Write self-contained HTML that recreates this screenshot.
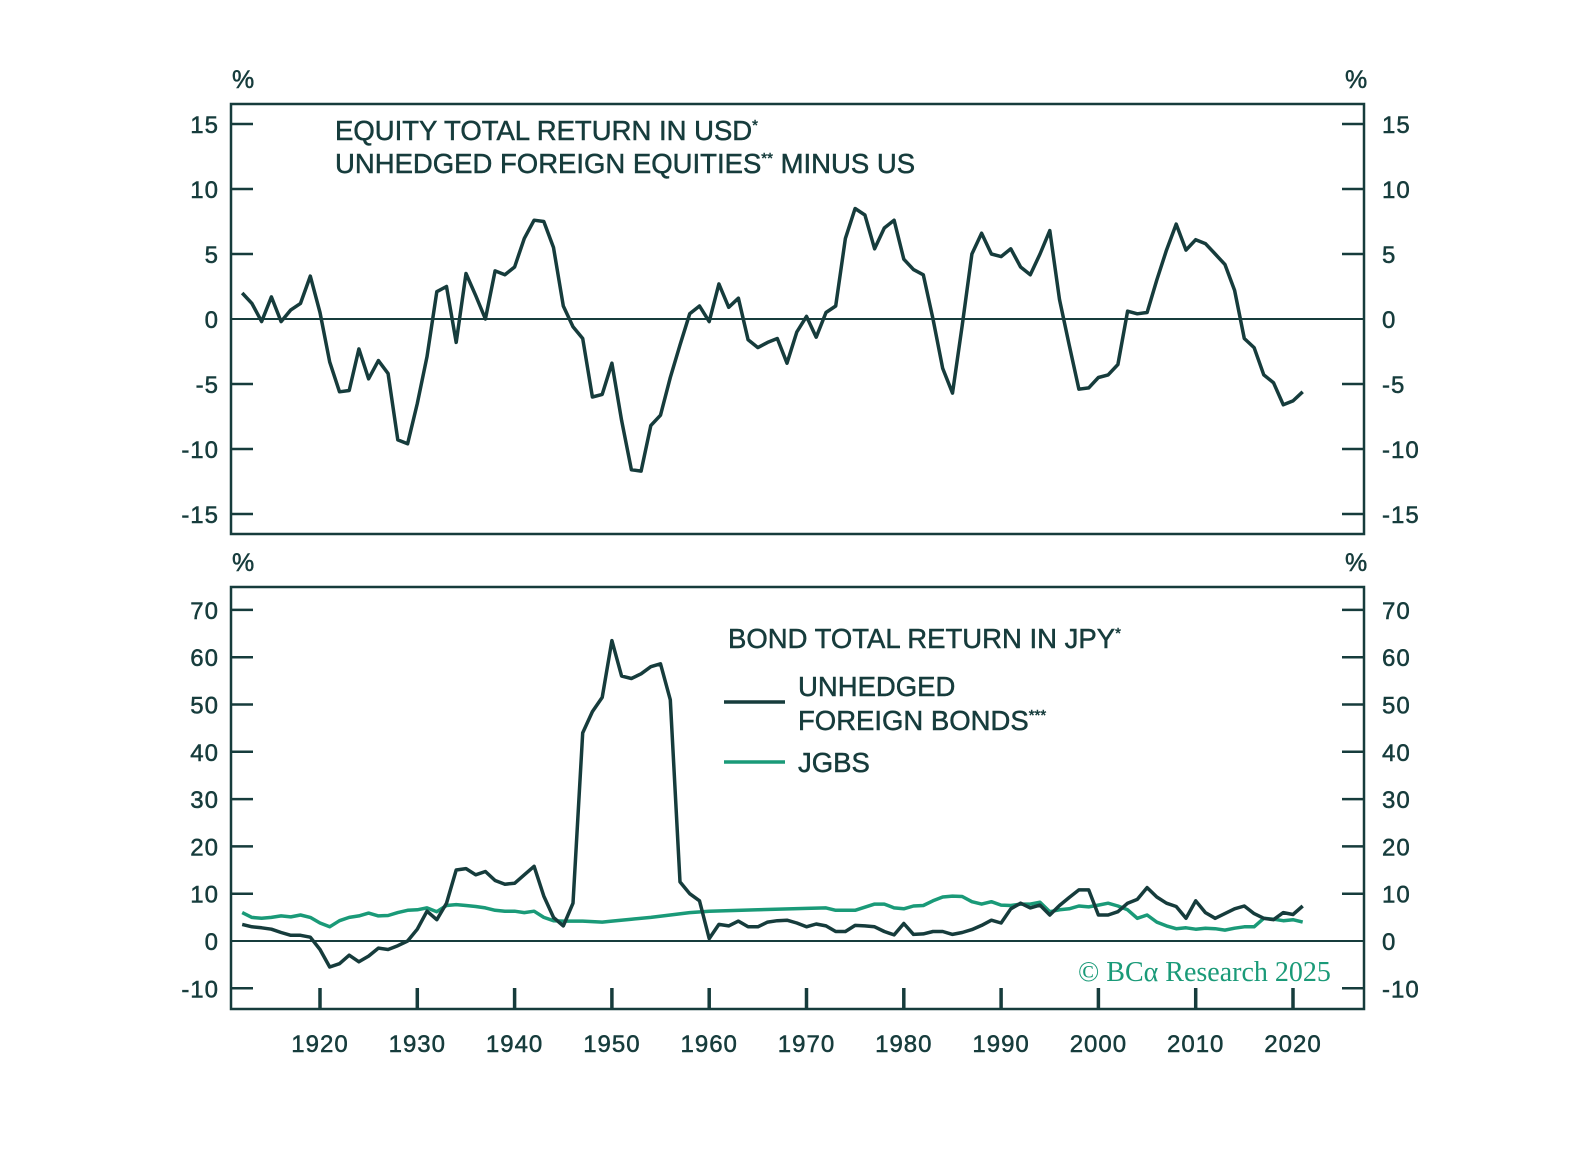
<!DOCTYPE html>
<html><head><meta charset="utf-8"><style>
html,body{margin:0;padding:0;background:#fff}
svg text{font-family:"Liberation Sans",sans-serif;fill:#163c3c;stroke:#163c3c;stroke-width:0.5}
</style></head><body>
<svg id="s" width="1588" height="1144" viewBox="0 0 1588 1144" xmlns="http://www.w3.org/2000/svg">
<g stroke="#163c3c" stroke-width="2.5" fill="none">
<rect x="231" y="104" width="1133" height="430"/>
<rect x="231" y="587" width="1133" height="422"/>
<line x1="231" y1="319" x2="1364" y2="319" stroke-width="2"/>
<line x1="231" y1="941" x2="1364" y2="941" stroke-width="2"/>
</g>
<g id="ticks" stroke="#163c3c" stroke-width="2.5"></g>
<g id="labels" font-size="24" letter-spacing="1"></g>
<text x="232" y="88" font-size="25">%</text>
<text x="1345" y="88" font-size="25">%</text>
<text x="232" y="571" font-size="25">%</text>
<text x="1345" y="571" font-size="25">%</text>
<text x="335" y="140" font-size="27.5">EQUITY  TOTAL RETURN IN USD<tspan font-size="15" dy="-10">*</tspan></text>
<text x="335" y="173" font-size="27.5">UNHEDGED FOREIGN EQUITIES<tspan font-size="15" dy="-10">**</tspan><tspan dy="10"> MINUS US</tspan></text>
<text x="728" y="648" font-size="27.5">BOND TOTAL RETURN IN JPY<tspan font-size="15" dy="-10">*</tspan></text>
<line x1="724" y1="702" x2="785" y2="702" stroke="#163c3c" stroke-width="3.5"/>
<text x="798" y="696" font-size="27.5">UNHEDGED</text>
<text x="798" y="730" font-size="27.5">FOREIGN BONDS<tspan font-size="15" dy="-10">***</tspan></text>
<line x1="724" y1="762" x2="785" y2="762" stroke="#1a9a78" stroke-width="3.5"/>
<text x="798" y="772" font-size="27.5">JGBS</text>
<text x="1078" y="981" font-size="28" style="fill:#1a9a78;stroke:none;font-family:'Liberation Serif',serif">© BCα Research 2025</text>
<polyline id="eq" fill="none" stroke="#163c3c" stroke-width="3.5" stroke-linejoin="round"/>
<polyline id="jg" fill="none" stroke="#1a9a78" stroke-width="3.5" stroke-linejoin="round"/>
<polyline id="fb" fill="none" stroke="#163c3c" stroke-width="3.5" stroke-linejoin="round"/>
</svg>
<script>
var X=function(y){return 320+(y-1920)*9.73};
var eq=[2,1.2,-0.2,1.7,-0.2,0.7,1.2,3.3,0.5,-3.3,-5.6,-5.5,-2.3,-4.6,-3.2,-4.2,-9.3,-9.6,-6.5,-2.9,2.1,2.5,-1.8,3.5,1.8,0,3.7,3.4,4,6.2,7.6,7.5,5.5,1,-0.6,-1.5,-6,-5.8,-3.4,-7.8,-11.6,-11.7,-8.2,-7.4,-4.5,-2,0.4,1,-0.2,2.7,0.9,1.6,-1.6,-2.2,-1.8,-1.5,-3.4,-1,0.2,-1.4,0.5,1,6.2,8.5,8,5.4,7,7.6,4.6,3.8,3.4,0,-3.8,-5.7,-0.5,5,6.6,5,4.8,5.4,4,3.4,5,6.8,1.5,-2,-5.4,-5.3,-4.5,-4.3,-3.5,0.6,0.4,0.5,3,5.3,7.3,5.3,6.1,5.8,5,4.2,2.2,-1.5,-2.2,-4.3,-4.9,-6.6,-6.3,-5.6];
var fb=[3.5,3,2.8,2.5,1.8,1.2,1.2,0.8,-1.8,-5.5,-4.8,-3,-4.4,-3.2,-1.5,-1.8,-1,0,2.5,6.3,4.5,8,15,15.3,14,14.7,12.8,12,12.2,14,15.8,9.5,5,3.2,8,44,48.5,51.5,63.5,56,55.5,56.5,58,58.6,51,12.5,10,8.5,0.5,3.5,3.2,4.2,3,3,4,4.3,4.4,3.8,3,3.6,3.2,2,2,3.3,3.2,3,2,1.3,3.7,1.4,1.5,2,2,1.4,1.8,2.4,3.3,4.4,3.8,6.8,8,7,7.6,5.5,7.5,9.2,10.8,10.8,5.5,5.5,6.2,8,8.8,11.3,9.3,8,7.3,4.8,8.5,6,4.8,5.8,6.8,7.4,5.8,4.8,4.5,6,5.6,7.4];
var jg={1912:6,1913:5,1914:4.8,1915:5,1916:5.3,1917:5.1,1918:5.5,1919:5,1920:3.8,1921:3,1922:4.3,1923:5,1924:5.3,1925:5.9,1926:5.3,1927:5.4,1928:6,1929:6.5,1930:6.6,1931:7,1932:6.2,1933:7.5,1934:7.7,1935:7.5,1936:7.3,1937:7,1938:6.5,1939:6.3,1940:6.3,1941:6,1942:6.3,1943:5,1944:4.3,1945:4.2,1946:4.2,1947:4.2,1948:4.1,1949:4,1950:4.2,1952:4.6,1954:5,1956:5.5,1958:6,1960:6.3,1965:6.6,1970:6.9,1972:7,1973:6.5,1975:6.5,1977:7.8,1978:7.8,1979:7,1980:6.8,1981:7.4,1982:7.5,1983:8.5,1984:9.3,1985:9.5,1986:9.4,1987:8.3,1988:7.8,1989:8.3,1990:7.6,1991:7.5,1992:7.8,1993:7.8,1994:8.2,1995:6.2,1996:6.6,1997:6.8,1998:7.4,1999:7.2,2000:7.6,2001:8,2002:7.4,2003:6.6,2004:4.8,2005:5.5,2006:4,2007:3.2,2008:2.6,2009:2.8,2010:2.5,2011:2.7,2012:2.6,2013:2.3,2014:2.7,2015:3,2016:3,2017:4.8,2018:4.6,2019:4.3,2020:4.5,2021:4};
function pts(a,f){return a.map(function(v,i){return X(1912+i).toFixed(1)+","+f(v).toFixed(1)}).join(" ")}
var T=function(v){return 319-v*13},B=function(v){return 941-v*4.73};
document.getElementById("eq").setAttribute("points",pts(eq,T));
document.getElementById("fb").setAttribute("points",pts(fb,B));
document.getElementById("jg").setAttribute("points",Object.keys(jg).map(function(k){return X(+k).toFixed(1)+","+B(jg[k]).toFixed(1)}).join(" "));
var tk="",lb="";
[15,10,5,0,-5,-10,-15].forEach(function(v){var y=T(v);if(v!==0){tk+='<line x1="231" y1="'+y+'" x2="253" y2="'+y+'"/><line x1="1342" y1="'+y+'" x2="1364" y2="'+y+'"/>';}
lb+='<text x="219" y="'+(y+9)+'" text-anchor="end">'+v+'</text><text x="1382" y="'+(y+9)+'">'+v+'</text>';});
[70,60,50,40,30,20,10,0,-10].forEach(function(v){var y=B(v);if(v!==0){tk+='<line x1="231" y1="'+y+'" x2="253" y2="'+y+'"/><line x1="1342" y1="'+y+'" x2="1364" y2="'+y+'"/>';}
lb+='<text x="219" y="'+(y+9)+'" text-anchor="end">'+v+'</text><text x="1382" y="'+(y+9)+'">'+v+'</text>';});
for(var yr=1920;yr<=2020;yr+=10){var x=X(yr);tk+='<line x1="'+x+'" y1="988" x2="'+x+'" y2="1009" stroke-width="3.5"/>';lb+='<text x="'+x+'" y="1052" text-anchor="middle">'+yr+'</text>';}
document.getElementById("ticks").innerHTML=tk;document.getElementById("labels").innerHTML=lb;
</script>
</body></html>
